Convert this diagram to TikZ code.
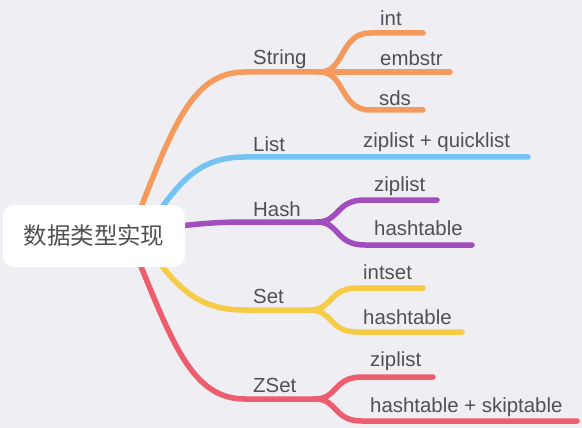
\documentclass[tikz,border=0pt]{standalone}
\usepackage{fontspec}
\setmainfont{Liberation Sans}
\newfontfamily\cjk{Noto Sans CJK SC}
\definecolor{bgc}{HTML}{EFEEF2}
\definecolor{txt}{HTML}{505055}
\definecolor{cor}{HTML}{F39A5C}
\definecolor{cbl}{HTML}{74C3F2}
\definecolor{cpu}{HTML}{A24DBE}
\definecolor{cye}{HTML}{F6CB45}
\definecolor{cre}{HTML}{EC5E6E}
\begin{document}
\begin{tikzpicture}[x=1pt,y=-1pt,
  branch/.style={line width=5.5pt,line cap=round},
  lbl/.style={anchor=base west,inner sep=0pt,text=txt,font=\fontsize{20.4}{21}\selectfont},
  root/.style={fill=white,rounded corners=11pt,minimum width=182pt,minimum height=62pt,inner sep=0pt,text=txt,font=\cjk\fontsize{23.5}{24}\selectfont}]
\fill[bgc] (0,0) rectangle (582,428);
\useasboundingbox (0,0) rectangle (582,428);
% coordinates
\coordinate (sO) at (140,210); \coordinate (sA) at (245,72); \coordinate (sF) at (320,72);
\coordinate (s1) at (370,33); \coordinate (s1e) at (423,33);
\coordinate (s2e) at (450,72);
\coordinate (s3) at (370,110); \coordinate (s3e) at (423,110);
\coordinate (lO) at (160,210); \coordinate (lA) at (245,157); \coordinate (lE) at (528,157);
\coordinate (hO) at (180,226); \coordinate (hA) at (245,222); \coordinate (hF) at (317,222);
\coordinate (h1) at (365,200); \coordinate (h1e) at (437,200);
\coordinate (h2) at (365,245); \coordinate (h2e) at (472,245);
\coordinate (eO) at (160,264); \coordinate (eA) at (245,310); \coordinate (eF) at (310,310);
\coordinate (e1) at (358,288); \coordinate (e1e) at (423,288);
\coordinate (e2) at (358,332); \coordinate (e2e) at (462,332);
\coordinate (zO) at (140,264); \coordinate (zA) at (245,399); \coordinate (zF) at (315,399);
\coordinate (z1) at (362,377); \coordinate (z1e) at (433,377);
\coordinate (z2) at (362,421); \coordinate (z2e) at (577,421);
% String
\draw[branch,cor] (sO) .. controls (175,120) and (195,72) .. (sA) -- (sF);
\draw[branch,cor] (sF) .. controls (345,72) and (340,33) .. (s1) -- (s1e);
\draw[branch,cor] (sF) -- (s2e);
\draw[branch,cor] (sF) .. controls (345,72) and (340,110) .. (s3) -- (s3e);
% List
\draw[branch,cbl] (lO) .. controls (185,175) and (205,157) .. (lA) -- (lE);
% Hash
\draw[branch,cpu] (hO) .. controls (205,223) and (225,222) .. (hA) -- (hF);
\draw[branch,cpu] (hF) .. controls (340,222) and (335,200) .. (h1) -- (h1e);
\draw[branch,cpu] (hF) .. controls (340,222) and (335,245) .. (h2) -- (h2e);
% Set
\draw[branch,cye] (eO) .. controls (185,295) and (205,310) .. (eA) -- (eF);
\draw[branch,cye] (eF) .. controls (333,310) and (328,288) .. (e1) -- (e1e);
\draw[branch,cye] (eF) .. controls (333,310) and (328,332) .. (e2) -- (e2e);
% ZSet
\draw[branch,cre] (zO) .. controls (175,350) and (195,399) .. (zA) -- (zF);
\draw[branch,cre] (zF) .. controls (338,399) and (333,377) .. (z1) -- (z1e);
\draw[branch,cre] (zF) .. controls (338,399) and (333,421) .. (z2) -- (z2e);
% root
\node[root] (root) at (94,236) {数据类型实现};
% labels
\node[lbl] (tString) at (253,65) {String};
\node[lbl] (tint) at (380,26) {int};
\node[lbl] (tembstr) at (380,66) {embstr};
\node[lbl] (tsds) at (379,106) {sds};
\node[lbl] (tList) at (253,151) {List};
\node[lbl] (tzq) at (363,147) {ziplist + quicklist};
\node[lbl] (tHash) at (253,216) {Hash};
\node[lbl] (thz) at (374,191) {ziplist};
\node[lbl] (thh) at (374,236) {hashtable};
\node[lbl] (tSet) at (253,303) {Set};
\node[lbl] (tsi) at (363,279) {intset};
\node[lbl] (tsh) at (363,324) {hashtable};
\node[lbl] (tZSet) at (253,392) {ZSet};
\node[lbl] (tzz) at (370,366) {ziplist};
\node[lbl] (tzh) at (370,412) {hashtable + skiptable};
\end{tikzpicture}
\end{document}
